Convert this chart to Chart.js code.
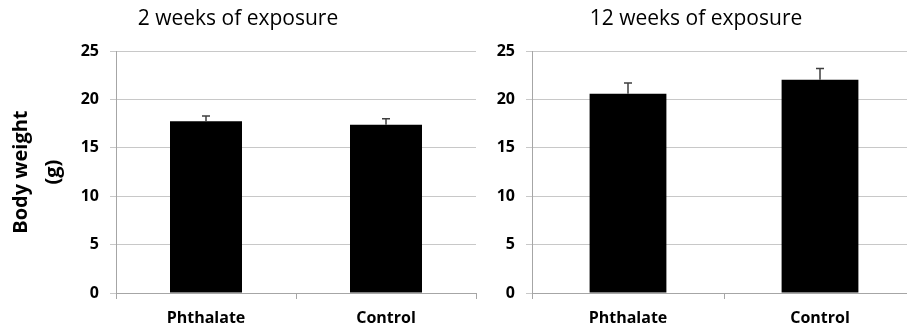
<!DOCTYPE html>
<html>
<head>
<meta charset="utf-8">
<script src="https://cdn.jsdelivr.net/npm/chart.js@4"></script>
<style>
    html, body { margin: 0; padding: 0; background: #fff; }
    #wrap { position: relative; width: 907px; height: 331px; overflow: hidden; }
    #c1 { position: absolute; left: 0; top: 0; }
    #c2 { position: absolute; left: 476px; top: 0; }
</style>
</head>
<body>
<div id="wrap">
    <canvas id="c1" width="564" height="331"></canvas>
    <canvas id="c2" width="504" height="331"></canvas>
</div>
<script>
const groups = ["Phthalate", "Control"];
const weeks2Means = [17.75, 17.4];
const weeks2Errors = [0.55, 0.62];
const weeks12Means = [20.6, 22.05];
const weeks12Errors = [1.1, 1.15];
const yMin = 0;
const yMax = 25;
const yStep = 5;

const fontFamily = "'Open Sans', Lato, sans-serif";

// draws the upper half of the error bar above each bar
const errorBars = {
    id: "errorBars",
    afterDatasetsDraw(chart, args, opts) {
        const errors = opts.errors || [];
        const ctx = chart.ctx;
        const y = chart.scales.y;
        const values = chart.data.datasets[0].data;
        chart.getDatasetMeta(0).data.forEach((bar, i) => {
            const base = y.getPixelForValue(values[i]);
            const top = y.getPixelForValue(values[i] + errors[i]);
            ctx.save();
            ctx.strokeStyle = "#3f3f3f";
            ctx.lineWidth = 1.5;
            ctx.beginPath();
            ctx.moveTo(bar.x, base);
            ctx.lineTo(bar.x, top);
            ctx.moveTo(bar.x - 4, top);
            ctx.lineTo(bar.x + 4, top);
            ctx.stroke();
            ctx.restore();
        });
    },
};

function makeChart(canvasId, titleText, means, errors, axisTitle, yWidth, padRight) {
    return new Chart(document.getElementById(canvasId), {
        type: "bar",
        data: {
            labels: groups,
            datasets: [{
                data: means,
                backgroundColor: "#000",
                borderColor: "#000",
                borderWidth: 0,
                barPercentage: 0.4,
                categoryPercentage: 1,
            }],
        },
        options: {
            responsive: false,
            animation: false,
            layout: { padding: { left: 0, right: padRight, top: 0, bottom: 0 } },
            plugins: {
                legend: { display: false },
                tooltip: { enabled: false },
                title: {
                    display: true,
                    text: titleText,
                    color: "#000",
                    font: { family: fontFamily, size: 21, weight: "normal", lineHeight: 1.2 },
                    padding: { top: 6, bottom: 20 },
                },
                errorBars: { errors },
            },
            scales: {
                x: {
                    afterFit: (scale) => { scale.height = 38; },
                    grid: { drawOnChartArea: false, tickLength: 6, color: "#a6a6a6" },
                    border: { color: "#a6a6a6" },
                    ticks: {
                        color: "#000",
                        padding: 10,
                        font: { family: fontFamily, size: 16, weight: "bold" },
                    },
                },
                y: {
                    min: yMin,
                    max: yMax,
                    afterFit: (scale) => { scale.width = yWidth; },
                    ticks: {
                        stepSize: yStep,
                        color: "#000",
                        padding: 11,
                        font: { family: fontFamily, size: 16, weight: "bold" },
                    },
                    grid: { color: "#c8c8c8", tickLength: 6 },
                    border: { color: "#a6a6a6" },
                    title: {
                        display: !!axisTitle,
                        text: axisTitle || "",
                        color: "#000",
                        padding: { top: 5, bottom: 0 },
                        font: { family: fontFamily, size: 20, weight: "bold", lineHeight: 1.6 },
                    },
                },
            },
        },
        plugins: [errorBars],
    });
}

makeChart("c1", "2 weeks of exposure", weeks2Means, weeks2Errors, ["Body weight", "(g)"], 116, 88);
makeChart("c2", "12 weeks of exposure", weeks12Means, weeks12Errors, null, 56, 64);
</script>
</body>
</html>
